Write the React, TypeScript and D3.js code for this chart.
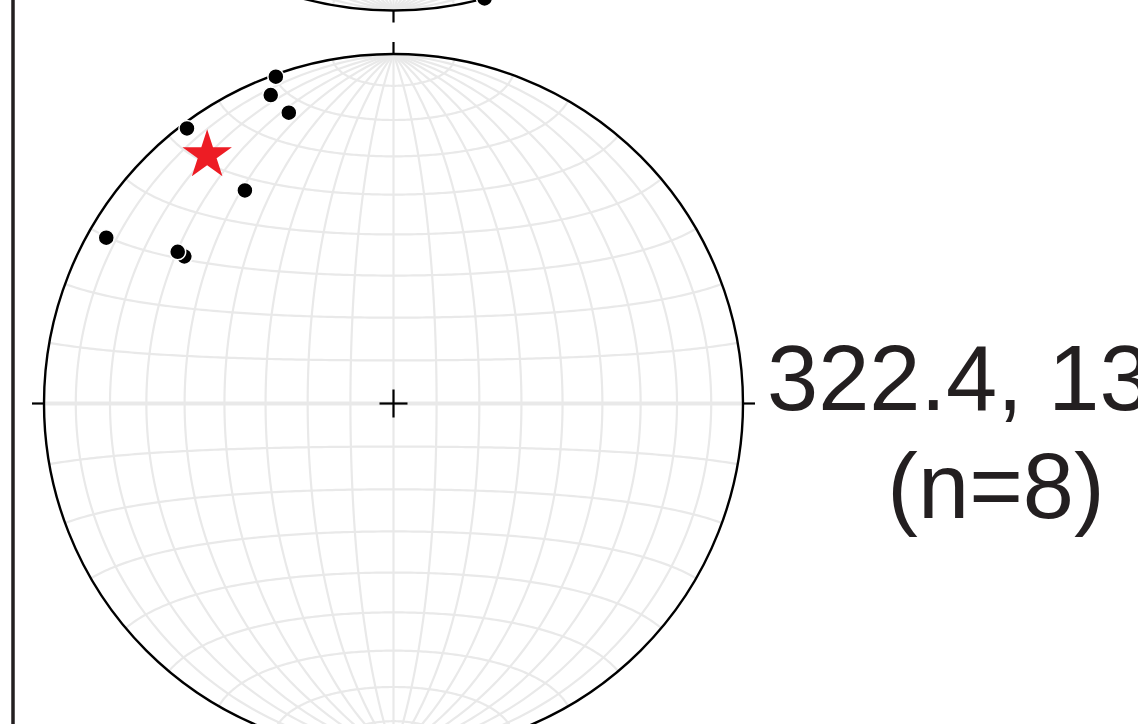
import React from 'react';
import * as d3 from 'd3';

const W = 1138;
const H = 724;

// Lower stereonet: lineations (trend, plunge in degrees), lower hemisphere
const lowerTrends = [340.2, 338.3, 340.2, 323.1, 325.1, 300.0, 305.1, 305.1];
const lowerPlunges = [0.7, 5.6, 12.6, 1.8, 26.6, 5.7, 27.7, 25.5];
// Mean vector (star)
const meanTrend = [323.1];
const meanPlunge = [12.2];
const labelLines = ['322.4, 13', '(n=8)'];

// Upper stereonet (only its lower rim is visible)
const upperTrends = [164.9];
const upperPlunges = [0.0];

const R = 349.5;
const CX = 393.5;
const LOWER_CY = 403.5;
const UPPER_CY = -339;
const GRID_COLOR = '#e9e9e9';
const INK = '#231f20';

function toLonLat(t: number, p: number): [number, number] {
  const tr = (t * Math.PI) / 180;
  const pr = (p * Math.PI) / 180;
  const X = Math.sin(pr);
  const Y = Math.cos(pr) * Math.sin(tr);
  const Z = Math.cos(pr) * Math.cos(tr);
  return [(Math.atan2(Y, X) * 180) / Math.PI, (Math.asin(Z) * 180) / Math.PI];
}

function makeProjection(cy: number) {
  return d3.geoAzimuthalEqualArea().scale(R / Math.SQRT2).translate([CX, cy]).rotate([0, 0, 0]);
}

const meridianLons = d3.range(-80, 81, 10);
const parallelLats = d3.range(-80, 81, 10);

function Net({ cy, trends, plunges, idp }: { cy: number; trends: number[]; plunges: number[]; idp: string }) {
  const proj = makeProjection(cy);
  const path = d3.geoPath(proj);
  const lats = d3.range(-90, 90.01, 1);
  const lons = d3.range(-90, 90.01, 1);
  const meridians = meridianLons.map((lon) => ({
    type: 'LineString' as const,
    coordinates: lats.map((la) => [lon, la]),
  }));
  const parallels = parallelLats.map((lat) => ({
    type: 'LineString' as const,
    coordinates: lons.map((lo) => [lo, lat]),
  }));
  const tick = 12;
  return (
    <g>
      <defs>
        <clipPath id={idp + '-clip'}>
          <circle cx={CX} cy={cy} r={R} />
        </clipPath>
      </defs>
      <g clipPath={`url(#${idp}-clip)`} fill="none" stroke={GRID_COLOR}>
        {meridians.map((m, i) => (
          <path key={'m' + i} d={path(m as any) || ''} strokeWidth={2.2} />
        ))}
        {parallels.map((p, i) => (
          <path key={'p' + i} d={path(p as any) || ''} strokeWidth={parallelLats[i] === 0 ? 4 : 2.2} />
        ))}
      </g>
      <circle cx={CX} cy={cy} r={R} fill="none" stroke="#000" strokeWidth={2.4} />
      <g stroke="#000" strokeWidth={2.2}>
        <line x1={CX} x2={CX} y1={cy - R} y2={cy - R - tick} />
        <line x1={CX} x2={CX} y1={cy + R} y2={cy + R + tick} />
        <line x1={CX - R} x2={CX - R - tick} y1={cy} y2={cy} />
        <line x1={CX + R} x2={CX + R + tick} y1={cy} y2={cy} />
        <line x1={CX - 14} x2={CX + 14} y1={cy} y2={cy} />
        <line x1={CX} x2={CX} y1={cy - 14} y2={cy + 14} />
      </g>
      {trends.map((t, i) => {
        const [x, y] = proj(toLonLat(t, plunges[i])) as [number, number];
        return <circle key={'d' + i} cx={x} cy={y} r={8} fill="#000" stroke="#fff" strokeWidth={1.5} />;
      })}
    </g>
  );
}

export default function App() {
  const proj = makeProjection(LOWER_CY);
  const star = d3.symbol().type(d3.symbolStar).size(760)();
  return (
    <svg
      width={W}
      height={H}
      viewBox={`0 0 ${W} ${H}`}
      style={{ position: 'absolute', left: 0, top: 0, background: '#fff' }}
    >
      <rect x={0} y={0} width={W} height={H} fill="#fff" />
      <Net cy={UPPER_CY} trends={upperTrends} plunges={upperPlunges} idp="upper" />
      <Net cy={LOWER_CY} trends={lowerTrends} plunges={lowerPlunges} idp="lower" />
      {meanTrend.map((t, i) => {
        const [x, y] = proj(toLonLat(t, meanPlunge[i])) as [number, number];
        return <path key={'s' + i} d={star || ''} transform={`translate(${x},${y})`} fill="#ed1c24" />;
      })}
      <line x1={13} x2={13} y1={0} y2={H} stroke={INK} strokeWidth={3.5} />
      <g fill={INK} fontFamily="'Liberation Sans', Arial, sans-serif" fontSize={92}>
        <text x={767} y={410}>{labelLines[0]}</text>
        <text x={996} y={518} textAnchor="middle">{labelLines[1]}</text>
      </g>
    </svg>
  );
}
